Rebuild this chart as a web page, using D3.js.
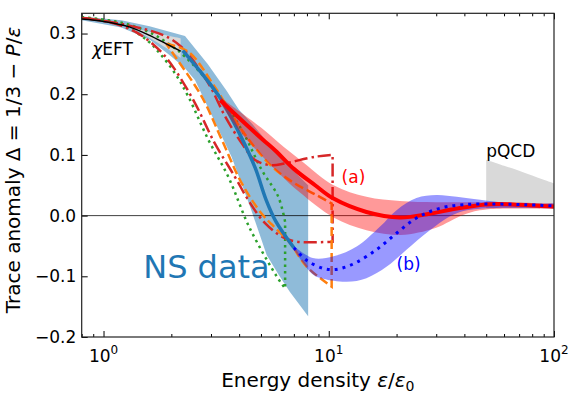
<!DOCTYPE html>
<html>
<head>
<meta charset="utf-8">
<script src="https://cdn.jsdelivr.net/npm/d3@7"></script>
<style>
  body { margin: 0; background: #fff; }
  text { font-family: "DejaVu Sans", sans-serif; }
</style>
</head>
<body>
<div id="chart"></div>
<script>
// all points are [energy density eps/eps0, trace anomaly Delta]

// chiral EFT line + band, pQCD band
const eftLine  = [[0.8, 0.324], [1.0, 0.320], [1.3, 0.311], [1.6, 0.297], [1.9, 0.283], [2.2, 0.271]];
const eftUpper = [[1.4, 0.308], [1.6, 0.303], [1.9, 0.297], [2.2, 0.292]];
const eftLower = [[1.4, 0.306], [1.6, 0.293], [1.9, 0.276], [2.2, 0.260]];
const pqcdUpper = [[50, 0.092], [60, 0.082], [70, 0.074], [80, 0.066], [90, 0.059], [100, 0.053]];
const pqcdLower = [[50, 0.012], [100, 0.012]];

// NS data band (polygon) and its central line
const nsUpper = [[0.8, 0.328], [1.2, 0.322], [1.6, 0.312], [2.0, 0.302], [2.3, 0.296], [2.9, 0.25],
                 [3.5, 0.207], [4.0, 0.174], [4.6, 0.15], [5.5, 0.115], [6.5, 0.085], [8.1, 0.05]];
const nsLower = [[0.8, 0.322], [1.2, 0.31], [1.6, 0.29], [2.0, 0.262], [2.3, 0.243], [2.55, 0.223],
                 [3.0, 0.168], [3.7, 0.097], [4.5, 0.012], [4.9, -0.028], [5.3, -0.065], [6.0, -0.098],
                 [6.7, -0.125], [8.1, -0.166]];
const nsLine = [[2.25, 0.272], [2.71, 0.236], [3.29, 0.194], [4.04, 0.133], [4.71, 0.079],
                [5.27, 0.026], [5.83, -0.01], [7.0, -0.053]];

// (a): red line + band
const aLine  = [[3.3, 0.19], [4.3, 0.15], [5.1, 0.125], [5.8, 0.107], [7.0, 0.077], [8.7, 0.05],
                [10.5, 0.028], [14.7, 0.006], [20.7, -0.003], [28, 0.003], [35, 0.01], [44, 0.016],
                [55, 0.019], [70, 0.018], [100, 0.015]];
const aUpper = [[3.3, 0.195], [4.0, 0.172], [5.0, 0.145], [6.0, 0.12], [7.45, 0.092], [10.5, 0.05],
                [14.7, 0.031], [20.7, 0.024], [30, 0.022], [50, 0.022], [100, 0.02]];
const aLower = [[3.3, 0.185], [4.0, 0.14], [5.0, 0.1], [6.0, 0.07], [7.45, 0.038], [10.5, -0.003],
                [14.7, -0.024], [20.7, -0.032], [25, -0.028], [30, -0.02], [40, 0.002], [50, 0.01],
                [100, 0.011]];

// (b): blue dotted line + band
const bLine  = [[7.0, -0.053], [8.0, -0.074], [9.45, -0.087], [10.5, -0.089], [11.6, -0.086],
                [13.3, -0.077], [16.3, -0.056], [20, -0.029], [24.5, -0.004], [31, 0.012],
                [39.5, 0.018], [55, 0.019], [75, 0.018], [100, 0.016]];
const bUpper = [[7.0, -0.05], [8.5, -0.07], [10.5, -0.067], [13.3, -0.051], [16.9, -0.018], [20, 0.009],
                [24.5, 0.029], [30, 0.034], [37, 0.031], [47, 0.026], [66, 0.02], [100, 0.02]];
const bLower = [[7.0, -0.056], [8.5, -0.097], [9.45, -0.104], [12, -0.109], [14.7, -0.103],
                [18.1, -0.084], [22.2, -0.056], [28.1, -0.024], [37, 0.004], [50, 0.012], [100, 0.012]];

// bound curves: each goes out along the first list and comes back along the second
const orangeOut  = [[1.9, 0.283], [2.38, 0.27], [3.12, 0.212], [4.11, 0.141], [5.58, 0.081],
                    [7.07, 0.053], [8.7, 0.035], [10.3, 0.02]];
const orangeBack = [[10.3, -0.117], [7.98, -0.084], [6.72, -0.045], [5.6, -0.015], [5.04, 0.003],
                    [4.11, 0.053], [3.35, 0.125], [2.73, 0.196], [2.08, 0.262], [1.9, 0.283]];
const redOut  = [[0.8, 0.326], [1.19, 0.316], [1.85, 0.297], [2.23, 0.277], [2.92, 0.218],
                 [3.47, 0.163], [4.11, 0.119], [4.69, 0.092], [5.58, 0.083], [6.38, 0.086],
                 [8.7, 0.097], [10.4, 0.1]];
const redBack = [[10.4, -0.043], [7.2, -0.043], [6.28, -0.036], [5.2, -0.012], [4.4, 0.025],
                 [3.83, 0.064], [3.12, 0.119], [2.55, 0.185], [2.08, 0.24], [1.8, 0.27],
                 [1.4, 0.302], [1.05, 0.319], [0.8, 0.326]];
const greenOut  = [[0.8, 0.327], [1.2, 0.318], [1.6, 0.302], [2.0, 0.28], [2.3, 0.262], [3.12, 0.207],
                   [4.11, 0.141], [5.04, 0.075], [5.97, 0.031], [6.4, -0.01]];
const greenBack = [[6.4, -0.12], [5.87, -0.1], [4.45, -0.02], [3.58, 0.064], [2.92, 0.125],
                   [2.38, 0.196], [2.08, 0.234], [1.78, 0.267], [1.56, 0.289], [1.2, 0.315], [0.8, 0.326]];

const xMajor = [1, 10, 100];
const xMinor = [0.8, 0.9, 2, 3, 4, 5, 6, 7, 8, 9, 20, 30, 40, 50, 60, 70, 80, 90];
const yTicks = [-0.2, -0.1, 0.0, 0.1, 0.2, 0.3];

var W = 572, H = 396;
var pL = 81.7, pR = 554, pT = 13.3, pB = 337;

var svg = d3.select("#chart").append("svg")
  .attr("width", W).attr("height", H)
  .style("background", "#fff");

var x = d3.scaleLog().domain([0.8, 100]).range([pL, pR]);
var y = d3.scaleLinear().domain([-0.2, 1 / 3]).range([pB, pT]);

var smooth = d3.line().x(d => x(d[0])).y(d => y(d[1])).curve(d3.curveCatmullRom.alpha(0.5));
var straight = d3.line().x(d => x(d[0])).y(d => y(d[1]));

// one path along `a`, then straight over to `b` and along it
function joined(a, b, gen) {
  gen = gen || smooth;
  return gen(a) + gen(b).replace(/^M/, "L");
}
function band(up, low, gen) {
  return joined(up, low.slice().reverse(), gen) + "Z";
}

svg.append("clipPath").attr("id", "clip")
  .append("rect").attr("x", pL).attr("y", pT)
  .attr("width", pR - pL).attr("height", pB - pT);

var plot = svg.append("g").attr("clip-path", "url(#clip)");

// NS band
plot.append("path").attr("d", band(nsUpper, nsLower, straight))
  .attr("fill", "#1f77b4").attr("fill-opacity", 0.5);

// zero line
plot.append("line")
  .attr("x1", pL).attr("x2", pR)
  .attr("y1", y(0)).attr("y2", y(0))
  .attr("stroke", "#000").attr("stroke-width", 1).attr("stroke-opacity", 0.75);

// grey bands
plot.append("path").attr("d", band(eftUpper, eftLower)).attr("fill", "#d9d9d9");
plot.append("path").attr("d", band(pqcdUpper, pqcdLower)).attr("fill", "#d9d9d9");

// bound curves
plot.append("path").attr("d", joined(greenOut, greenBack))
  .attr("fill", "none").attr("stroke", "#2ca02c").attr("stroke-width", 2.5)
  .attr("stroke-dasharray", "2.5,4");
plot.append("path").attr("d", joined(redOut, redBack))
  .attr("fill", "none").attr("stroke", "#d62728").attr("stroke-width", 2.5)
  .attr("stroke-dasharray", "13,4,2.5,4");
plot.append("path").attr("d", joined(orangeOut, orangeBack))
  .attr("fill", "none").attr("stroke", "#ff7f0e").attr("stroke-width", 2.5)
  .attr("stroke-dasharray", "9,4");

// NS central line and chiEFT line
plot.append("path").attr("d", smooth(nsLine))
  .attr("fill", "none").attr("stroke", "#1f77b4").attr("stroke-width", 3.5);
plot.append("path").attr("d", smooth(eftLine))
  .attr("fill", "none").attr("stroke", "#000").attr("stroke-width", 1.5);

// (a) and (b)
plot.append("path").attr("d", band(aUpper, aLower)).attr("fill", "red").attr("fill-opacity", 0.4);
plot.append("path").attr("d", band(bUpper, bLower)).attr("fill", "blue").attr("fill-opacity", 0.4);
plot.append("path").attr("d", smooth(aLine))
  .attr("fill", "none").attr("stroke", "red").attr("stroke-width", 4);
plot.append("path").attr("d", smooth(bLine))
  .attr("fill", "none").attr("stroke", "blue").attr("stroke-width", 3)
  .attr("stroke-dasharray", "3,5");

// labels in the plot
svg.append("text").attr("x", x(0.89)).attr("y", y(0.264)).attr("font-size", 17)
  .html('<tspan font-style="italic">χ</tspan>EFT');
svg.append("text").attr("x", x(50)).attr("y", y(0.097)).attr("font-size", 17).text("pQCD");
svg.append("text").attr("x", x(11.4)).attr("y", y(0.054)).attr("font-size", 17)
  .attr("fill", "red").text("(a)");
svg.append("text").attr("x", x(20)).attr("y", y(-0.089)).attr("font-size", 17)
  .attr("fill", "blue").text("(b)");
svg.append("text").attr("x", x(1.5)).attr("y", y(-0.102)).attr("font-size", 32)
  .attr("fill", "#1f77b4").text("NS data");

// axes
function styleAxis(g) {
  g.select(".domain").remove();
  g.selectAll("line").attr("stroke", "#000").attr("stroke-width", 1);
  g.attr("font-family", "DejaVu Sans").attr("font-size", 17);
  g.selectAll("text").attr("fill", "#000");
}

svg.append("g").attr("transform", `translate(0,${pB})`)
  .call(d3.axisBottom(x).tickValues(xMajor).tickSize(-6).tickFormat(""))
  .call(styleAxis);
svg.append("g").attr("transform", `translate(0,${pB})`)
  .call(d3.axisBottom(x).tickValues(xMinor).tickSize(-3).tickFormat(""))
  .call(styleAxis);
svg.append("g").attr("transform", `translate(0,${pT})`)
  .call(d3.axisTop(x).tickValues(xMajor).tickSize(-6).tickFormat(""))
  .call(styleAxis);
svg.append("g").attr("transform", `translate(0,${pT})`)
  .call(d3.axisTop(x).tickValues(xMinor).tickSize(-3).tickFormat(""))
  .call(styleAxis);

svg.append("g").attr("transform", `translate(${pL},0)`)
  .call(d3.axisLeft(y).tickValues(yTicks).tickSize(-6).tickPadding(5.5).tickFormat(d3.format(".1f")))
  .call(styleAxis);

// x tick labels as powers of ten
xMajor.forEach(function(v) {
  var t = svg.append("text").attr("x", x(v)).attr("y", 361.5)
    .attr("text-anchor", "middle").attr("font-size", 17);
  t.append("tspan").text("10");
  t.append("tspan").attr("font-size", 12).attr("dy", -8).text(Math.round(Math.log10(v)));
});

// frame
svg.append("rect").attr("x", pL).attr("y", pT)
  .attr("width", pR - pL).attr("height", pB - pT)
  .attr("fill", "none").attr("stroke", "#222").attr("stroke-width", 1.2);

// axis titles
svg.append("text").attr("x", (pL + pR) / 2).attr("y", 386.5)
  .attr("text-anchor", "middle").attr("font-size", 20)
  .html('Energy density <tspan font-style="italic">ε</tspan>/<tspan font-style="italic">ε</tspan><tspan font-size="14" dy="4">0</tspan>');

svg.append("text").attr("transform", "translate(20,170) rotate(-90)")
  .attr("text-anchor", "middle").attr("font-size", 20)
  .html('Trace anomaly Δ = 1/3 − <tspan font-style="italic">P</tspan>/<tspan font-style="italic">ε</tspan>');
</script>
</body>
</html>
